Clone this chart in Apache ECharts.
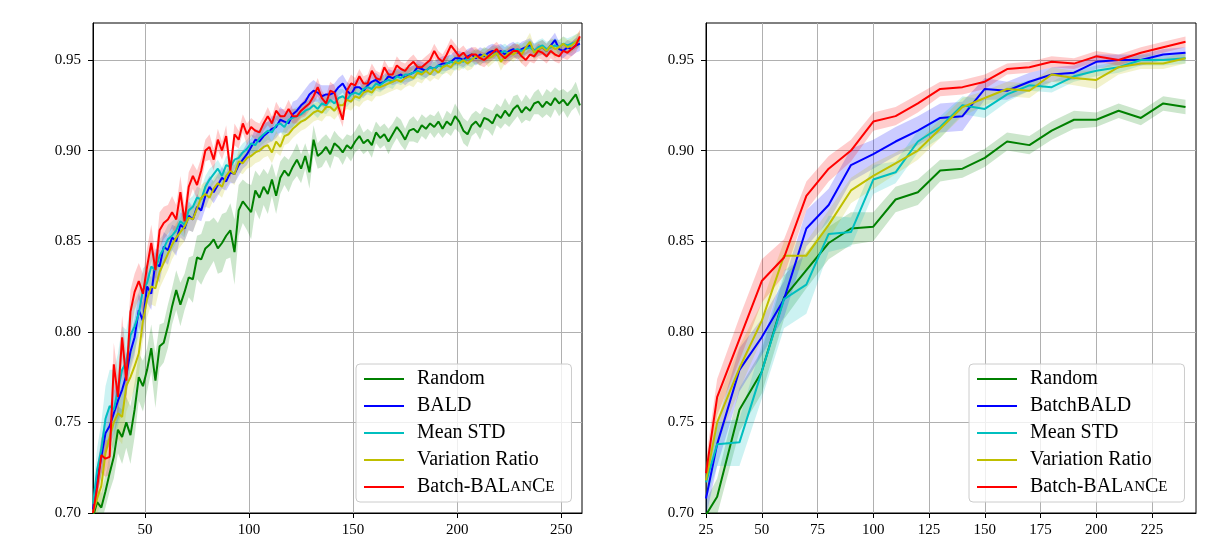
<!DOCTYPE html>
<html><head><meta charset="utf-8">
<script src="https://cdn.jsdelivr.net/npm/echarts@6/dist/echarts.min.js"></script>
<style>html,body{margin:0;padding:0;background:#fff}#c{width:1227px;height:547px}</style>
</head><body><div id="c"></div>
<script>
// ---------- Left panel (every 2nd query step) ----------
const xLeft = [25,27,29,31,33,35,37,39,41,43,45,47,49,51,53,55,57,59,61,63,65,67,69,71,73,75,77,79,81,83,85,87,89,91,93,95,97,99,101,103,105,107,109,111,113,115,117,119,121,123,125,127,129,131,133,135,137,139,141,143,145,147,149,151,153,155,157,159,161,163,165,167,169,171,173,175,177,179,181,183,185,187,189,191,193,195,197,199,201,203,205,207,209,211,213,215,217,219,221,223,225,227,229,231,233,235,237,239,241,243,245,247,249,251,253,255,257,259];

const leftRandom = [
0.698,0.706,0.703,0.712,0.722,0.731,0.746,0.742,0.750,0.743,
0.757,0.775,0.770,0.779,0.791,0.773,0.792,0.794,0.803,0.814,
0.823,0.815,0.822,0.830,0.829,0.841,0.840,0.846,0.848,0.851,
0.846,0.849,0.853,0.856,0.844,0.867,0.872,0.869,0.866,0.878,
0.874,0.880,0.876,0.884,0.875,0.885,0.889,0.886,0.891,0.895,
0.890,0.897,0.888,0.906,0.897,0.899,0.902,0.898,0.904,0.902,
0.899,0.903,0.901,0.905,0.908,0.904,0.906,0.903,0.910,0.907,
0.909,0.905,0.909,0.913,0.910,0.906,0.911,0.912,0.910,0.914,
0.912,0.915,0.913,0.916,0.912,0.916,0.914,0.919,0.916,0.911,
0.909,0.914,0.916,0.913,0.918,0.917,0.915,0.920,0.918,0.922,
0.919,0.923,0.925,0.921,0.924,0.922,0.926,0.927,0.924,0.927,
0.925,0.929,0.926,0.928,0.925,0.928,0.931,0.925];
const leftRandomStd = [
6,7,8,9,10,12,13,15,14,16,
15,13,14,12,13,15,12,11,12,10,
11,12,10,11,13,12,14,15,13,12,
14,16,13,15,18,14,12,13,15,11,
12,10,11,9,10,9,8,9,8,9,
8,7,9,8,7,8,7,8,7,6,
7,6,7,6,7,6,6,7,6,6,
6,7,6,6,7,6,6,7,6,6,
6,5,6,6,5,6,6,7,6,7,
7,6,6,7,6,6,7,6,6,7,
6,7,6,6,7,6,6,7,6,7,
7,6,7,6,7,6,7,6];

const leftBALD = [
0.702,0.718,0.731,0.744,0.748,0.755,0.762,0.768,0.776,0.789,
0.797,0.812,0.806,0.825,0.821,0.838,0.836,0.847,0.845,0.852,
0.850,0.859,0.857,0.864,0.862,0.869,0.867,0.875,0.880,0.877,
0.881,0.885,0.883,0.888,0.887,0.892,0.895,0.898,0.902,0.906,
0.905,0.908,0.910,0.912,0.913,0.917,0.916,0.915,0.920,0.922,
0.925,0.927,0.931,0.933,0.932,0.930,0.931,0.931,0.932,0.935,
0.937,0.933,0.931,0.935,0.935,0.933,0.936,0.938,0.939,0.937,
0.938,0.941,0.940,0.941,0.942,0.940,0.942,0.943,0.946,0.945,
0.944,0.946,0.945,0.947,0.948,0.948,0.949,0.951,0.951,0.950,
0.952,0.953,0.951,0.953,0.952,0.954,0.955,0.954,0.955,0.953,
0.955,0.956,0.954,0.956,0.957,0.958,0.955,0.956,0.957,0.955,
0.958,0.961,0.956,0.955,0.957,0.956,0.958,0.959];
const leftBALDStd = [
6,8,10,10,11,12,11,12,11,10,
10,9,10,9,9,8,9,8,8,7,
8,7,7,8,7,7,6,7,6,6,
6,6,5,6,5,6,5,6,5,6,
6,7,6,7,6,7,6,6,7,6,
6,7,6,6,5,6,5,5,5,5,
5,5,5,4,5,4,4,5,4,4,
4,4,4,4,4,4,4,4,4,4,
4,4,4,4,4,4,4,4,4,4,
4,4,4,4,4,4,4,4,4,4,
4,4,4,4,4,4,4,4,4,4,
4,4,4,4,4,4,4,4];

const leftMeanSTD = [
0.705,0.724,0.735,0.752,0.759,0.757,0.768,0.779,0.783,0.798,
0.803,0.810,0.823,0.827,0.836,0.834,0.842,0.846,0.851,0.853,
0.856,0.861,0.859,0.867,0.869,0.874,0.873,0.880,0.884,0.887,
0.890,0.886,0.892,0.891,0.895,0.896,0.899,0.901,0.904,0.903,
0.907,0.909,0.911,0.910,0.914,0.915,0.913,0.917,0.918,0.919,
0.920,0.922,0.923,0.925,0.923,0.926,0.925,0.928,0.926,0.929,
0.930,0.928,0.931,0.932,0.931,0.934,0.935,0.934,0.937,0.936,
0.938,0.939,0.938,0.941,0.940,0.942,0.942,0.943,0.944,0.943,
0.944,0.946,0.945,0.947,0.946,0.948,0.949,0.948,0.950,0.949,
0.951,0.950,0.952,0.951,0.953,0.952,0.954,0.953,0.954,0.955,
0.953,0.955,0.956,0.955,0.956,0.957,0.955,0.957,0.958,0.956,
0.957,0.958,0.957,0.959,0.958,0.959,0.960,0.961];
const leftMeanSTDStd = [
8,12,15,18,20,22,20,24,18,16,
14,12,12,10,10,9,9,8,8,8,
7,7,7,6,6,6,6,6,6,5,
5,5,5,5,5,5,5,5,5,5,
5,5,5,5,5,5,5,5,5,5,
5,5,5,5,5,5,5,5,5,5,
4,4,4,4,4,4,4,4,4,4,
4,4,4,4,4,4,4,4,4,4,
4,4,4,4,4,4,4,4,4,4,
4,4,4,4,4,4,4,4,4,4,
4,4,4,4,4,4,4,4,4,4,
4,4,4,4,4,4,4,4];

const leftVarRatio = [
0.700,0.708,0.715,0.733,0.742,0.750,0.755,0.753,0.770,0.775,
0.781,0.788,0.806,0.818,0.825,0.824,0.833,0.838,0.843,0.848,
0.852,0.855,0.858,0.863,0.862,0.868,0.874,0.876,0.874,0.879,
0.882,0.880,0.886,0.889,0.887,0.894,0.893,0.896,0.897,0.899,
0.900,0.902,0.903,0.899,0.905,0.902,0.908,0.909,0.912,0.914,
0.916,0.917,0.919,0.921,0.922,0.921,0.924,0.924,0.922,0.925,
0.925,0.928,0.927,0.930,0.929,0.932,0.933,0.932,0.935,0.935,
0.936,0.937,0.938,0.939,0.938,0.940,0.941,0.940,0.943,0.942,
0.944,0.942,0.945,0.943,0.946,0.947,0.946,0.949,0.948,0.950,
0.948,0.950,0.952,0.951,0.953,0.951,0.952,0.954,0.949,0.952,
0.954,0.953,0.955,0.953,0.957,0.960,0.954,0.956,0.957,0.955,
0.958,0.956,0.957,0.959,0.957,0.958,0.960,0.962];
const leftVarRatioStd = [
6,8,10,10,12,12,14,15,14,13,
12,12,11,10,10,10,9,9,9,8,
8,8,8,7,7,7,7,7,6,6,
6,6,6,6,6,6,6,6,6,6,
6,6,6,6,6,5,5,5,5,5,
5,5,5,5,5,5,5,5,5,5,
5,5,5,5,5,5,5,5,5,5,
5,5,5,5,5,5,5,5,5,5,
4,4,5,4,4,4,5,4,4,4,
4,5,4,4,4,5,4,4,5,4,
4,4,4,5,4,5,4,4,4,4,
4,5,4,4,4,4,4,4];

const leftBalance = [
0.700,0.714,0.732,0.730,0.731,0.782,0.764,0.797,0.773,0.811,
0.822,0.828,0.821,0.836,0.849,0.834,0.856,0.860,0.862,0.866,
0.862,0.877,0.861,0.880,0.886,0.881,0.889,0.900,0.902,0.895,
0.906,0.900,0.908,0.889,0.909,0.906,0.915,0.909,0.913,0.911,
0.910,0.915,0.919,0.915,0.922,0.919,0.919,0.923,0.919,0.919,
0.922,0.924,0.926,0.930,0.935,0.929,0.926,0.933,0.932,0.924,
0.917,0.933,0.937,0.936,0.941,0.937,0.937,0.944,0.940,0.939,
0.946,0.942,0.942,0.947,0.945,0.944,0.947,0.949,0.946,0.946,
0.948,0.950,0.955,0.951,0.949,0.953,0.958,0.955,0.952,0.954,
0.951,0.953,0.953,0.951,0.950,0.952,0.954,0.956,0.953,0.951,
0.953,0.955,0.955,0.952,0.950,0.953,0.952,0.955,0.954,0.952,
0.955,0.953,0.952,0.955,0.954,0.956,0.958,0.963];
const leftBalanceStd = [
5,8,10,10,10,12,12,12,13,12,
10,10,11,10,10,9,10,9,8,9,
8,9,8,8,7,8,7,6,7,6,
6,5,6,5,6,5,5,6,5,5,
5,4,5,4,5,4,4,5,4,4,
4,5,4,4,5,4,4,5,4,5,
4,4,5,4,4,4,5,4,4,4,
4,4,4,5,4,4,4,4,4,4,
4,4,4,4,4,4,4,4,4,4,
4,4,4,4,4,4,4,4,4,4,
4,4,4,4,4,4,4,4,4,4,
4,4,4,4,4,4,4,4];

// ---------- Right panel ----------
const xRight = [25,30,40,50,60,70,80,90,100,110,120,130,140,150,160,170,180,190,200,210,220,230,240];
const rightRandom   = [0.699,0.709,0.757,0.778,0.819,0.834,0.849,0.857,0.858,0.873,0.877,0.889,0.890,0.896,0.905,0.903,0.911,0.917,0.917,0.922,0.918,0.926,0.924];
const rightRandomStd = [8,10,12,12,12,10,9,9,8,7,7,6,5,5,5,5,5,5,4,4,4,4,4];
const rightBatchBALD = [0.708,0.738,0.779,0.797,0.818,0.857,0.870,0.892,0.898,0.905,0.911,0.918,0.919,0.934,0.933,0.938,0.942,0.943,0.949,0.950,0.950,0.953,0.954];
const rightBatchBALDStd = [10,12,12,10,10,10,9,9,8,8,8,8,8,6,5,5,4,4,4,3,3,3,3];
const rightMeanSTD  = [0.717,0.738,0.739,0.778,0.818,0.826,0.854,0.855,0.884,0.888,0.905,0.913,0.925,0.923,0.931,0.936,0.935,0.941,0.944,0.946,0.950,0.950,0.951];
const rightMeanSTDStd = [10,12,13,15,16,16,10,8,8,6,6,6,5,5,4,3,3,3,3,3,3,3,3];
const rightVarRatio = [0.718,0.750,0.780,0.806,0.842,0.842,0.859,0.878,0.886,0.893,0.900,0.912,0.924,0.929,0.934,0.933,0.942,0.940,0.939,0.946,0.948,0.948,0.951];
const rightVarRatioStd = [10,12,12,10,8,8,8,7,7,6,5,5,5,4,4,4,4,4,5,4,3,3,3];
const rightBalance  = [0.722,0.764,0.796,0.828,0.841,0.875,0.890,0.900,0.916,0.919,0.926,0.934,0.935,0.938,0.945,0.946,0.949,0.948,0.952,0.950,0.954,0.957,0.960];
const rightBalanceStd = [8,10,12,12,10,8,7,6,5,5,5,4,4,4,3,3,3,3,3,3,3,3,3];

// ---------- Axes ----------
const xTicksLeft = [50,100,150,200,250];
const xTicksRight = [25,50,75,100,125,150,175,200,225];
const yTicks = [0.70,0.75,0.80,0.85,0.90,0.95];

const leftNames  = ['Random','BALD','Mean STD','Variation Ratio','Batch-BALanCe'];
const rightNames = ['Random','BatchBALD','Mean STD','Variation Ratio','Batch-BALanCe'];
const colors = ['#008000','#0000ff','#00bfbf','#bfbf00','#ff0000'];

const FONT = 'Liberation Serif';

function pairs(xs, ys){ return xs.map((x,i)=>[x, ys[i]]); }
// shaded +/- std band, drawn as one polygon through the axis scales
function band(gi, xs, ys, sd, color){
  return {type:'custom', xAxisIndex:gi, yAxisIndex:gi, silent:true, z:1,
    data:[[xs[0], ys[0]]],
    renderItem:function(params, api){
      const up = xs.map((x,i)=>api.coord([x, ys[i]+sd[i]/1000]));
      const lo = xs.map((x,i)=>api.coord([x, ys[i]-sd[i]/1000])).reverse();
      const cs = params.coordSys;
      return {type:'polygon', shape:{points: up.concat(lo)},
        style:{fill:color, opacity:0.2},
        clipPath:{type:'rect', shape:{x:cs.x, y:cs.y, width:cs.width, height:cs.height}}};
    }};
}
function line(name, gi, xs, ys, color){
  return {type:'line', name:name, xAxisIndex:gi, yAxisIndex:gi, data:pairs(xs,ys), symbol:'none',
          lineStyle:{color:color, width:2}, itemStyle:{color:color}, z:3};
}

const leftY = [leftRandom,leftBALD,leftMeanSTD,leftVarRatio,leftBalance];
const leftS = [leftRandomStd,leftBALDStd,leftMeanSTDStd,leftVarRatioStd,leftBalanceStd];
const rightY = [rightRandom,rightBatchBALD,rightMeanSTD,rightVarRatio,rightBalance];
const rightS = [rightRandomStd,rightBatchBALDStd,rightMeanSTDStd,rightVarRatioStd,rightBalanceStd];

let series = [];
for (let k=0;k<5;k++) series.push(band(0,xLeft,leftY[k],leftS[k],colors[k]));
for (let k=0;k<5;k++) series.push(band(1,xRight,rightY[k],rightS[k],colors[k]));
for (let k=0;k<5;k++) series.push(line(leftNames[k],0,xLeft,leftY[k],colors[k]));
for (let k=0;k<5;k++) series.push(line(rightNames[k],1,xRight,rightY[k],colors[k]));

function xAxis(gi, min, max, ticks){
  return {gridIndex:gi, type:'value', min:min, max:max,
    axisLine:{show:true, onZero:false, lineStyle:{color:'#000', width:1}},
    axisTick:{show:true, inside:false, length:5, lineStyle:{color:'#000', width:1}, customValues:ticks},
    axisLabel:{customValues:ticks, fontFamily:FONT, fontSize:15, color:'#000', margin:10},
    splitLine:{show:true, lineStyle:{color:'#b0b0b0', width:1}}};
}
function yAxis(gi){
  return {gridIndex:gi, type:'value', min:0.70, max:0.9704,
    axisLine:{show:true, onZero:false, lineStyle:{color:'#000', width:1}},
    axisTick:{show:true, inside:false, length:5, lineStyle:{color:'#000', width:1}, customValues:yTicks},
    axisLabel:{customValues:yTicks, fontFamily:FONT, fontSize:15, color:'#000', margin:12,
               formatter:(v)=>Number(v).toFixed(2)},
    splitLine:{show:true, lineStyle:{color:'#b0b0b0', width:1}}};
}
function fmt(name){
  if (name === 'Batch-BALanCe') return '{n|Batch-BAL}{s|AN}{n|C}{s|E}';
  return name;
}
function legend(left, names){
  return {orient:'vertical', left:left, top:364, data:names.map(n=>({name:n, icon:'rect'})),
    itemWidth:40, itemHeight:2, itemGap:7, selectedMode:false,
    padding:[5,17,5,8], backgroundColor:'rgba(255,255,255,0.8)', borderColor:'#cccccc',
    borderWidth:1, borderRadius:4, formatter:fmt,
    textStyle:{fontFamily:FONT, fontSize:20, color:'#000', lineHeight:20, padding:[0,0,0,8],
      rich:{n:{fontFamily:FONT, fontSize:20, color:'#000', lineHeight:20},
            s:{fontFamily:FONT, fontSize:15, color:'#000', lineHeight:20}}}};
}

const chart = echarts.init(document.getElementById('c'), null, {renderer:'canvas'});
chart.setOption({
  animation:false,
  backgroundColor:'#ffffff',
  grid:[
    {left:93, top:23, width:489, height:490, show:true, borderColor:'#000', borderWidth:1, backgroundColor:'transparent'},
    {left:706, top:23, width:490, height:490, show:true, borderColor:'#000', borderWidth:1, backgroundColor:'transparent'}
  ],
  xAxis:[xAxis(0,25,260,xTicksLeft), xAxis(1,25,244.7,xTicksRight)],
  yAxis:[yAxis(0), yAxis(1)],
  legend:[legend(356,leftNames), legend(969,rightNames)],
  series:series
});
</script></body></html>
